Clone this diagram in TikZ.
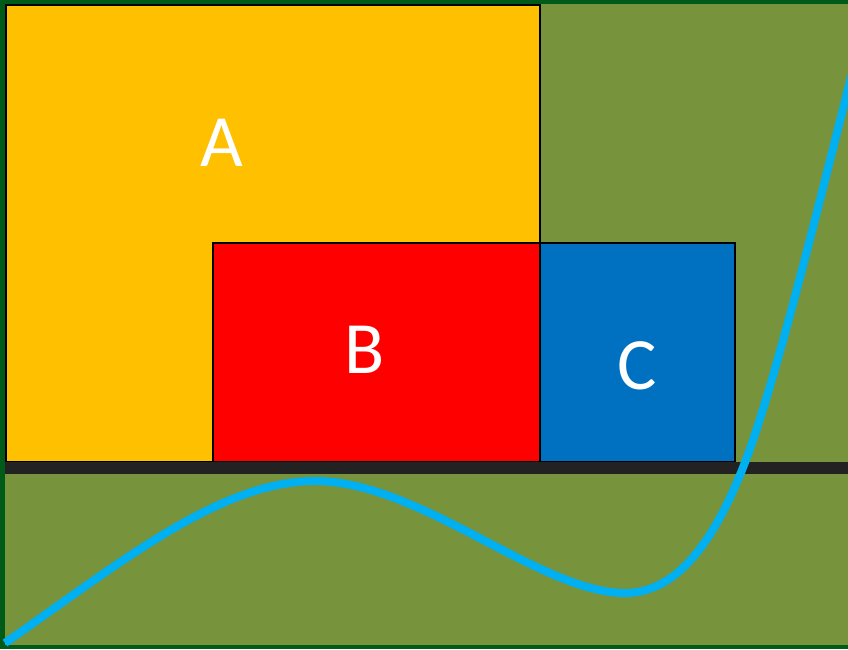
\documentclass[tikz,border=0pt]{standalone}
\usepackage{fontspec}
\setmainfont{Carlito}
\usetikzlibrary{positioning,calc}
\definecolor{frameGreen}{HTML}{005A18}
\definecolor{oliveBg}{HTML}{77933C}
\definecolor{boxYellow}{HTML}{FFC000}
\definecolor{boxRed}{HTML}{FF0000}
\definecolor{boxBlue}{HTML}{0070C0}
\definecolor{curveBlue}{HTML}{00B0F0}
\definecolor{barDark}{HTML}{222222}

\begin{document}
\begin{tikzpicture}[x=0.02cm, y=-0.02cm,
    block/.style={draw=black, line width=1.1pt},
    letter/.style={text=white, font=\fontsize{42}{46}\selectfont, inner sep=0pt}
]
    \useasboundingbox (0,0) rectangle (848,649);
    \begin{scope}
    \clip (0,0) rectangle (848,649);
    % background and frame
    \fill[oliveBg] (0,0) rectangle (848,649);
    \draw[frameGreen, line width=2.8pt] (2.5,2) rectangle (860,647);
    % blocks
    \draw[block, fill=boxYellow] (6,5) rectangle (540,462);
    \draw[block, fill=boxRed] (213,243) rectangle (540,462);
    \draw[block, fill=boxBlue] (540,243) rectangle (735,462);
    % floor
    \fill[barDark] (5,462) rectangle (848,474);
    % curve
    \coordinate (cStart) at (5,643);
    \coordinate (cTop) at (315,481);
    \coordinate (cLow) at (625,593);
    \coordinate (cMid) at (742,470);
    \coordinate (cEnd) at (858,50);
    \draw[curveBlue, line width=4.6pt]
        (cStart) .. controls (120,563) and (220,481) .. (cTop)
                 .. controls (420,481) and (540,593) .. (cLow)
                 .. controls (675,593) and (712,545) .. (cMid)
                 .. controls (775,388) and (822,190) .. (cEnd);
    \end{scope}
    % labels
    \node[letter] (labA) at (222,143) {A};
    \node[letter] (labB) at (365,350) {B};
    \node[letter] (labC) at (637,366) {C};
\end{tikzpicture}
\end{document}
